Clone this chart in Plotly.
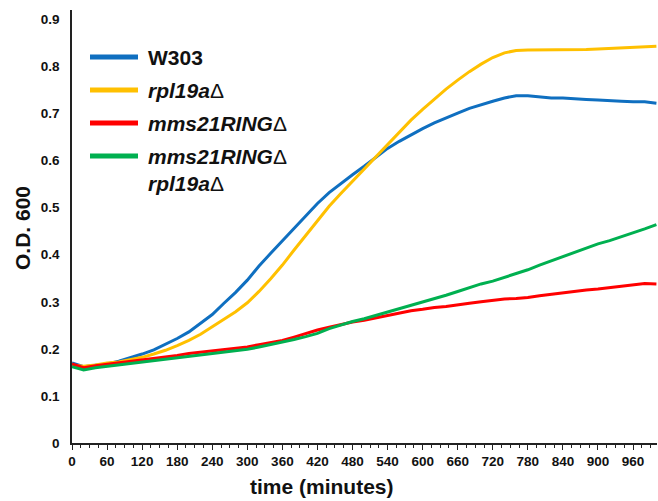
import plotly.graph_objects as go

# ---- data ----
time_min = list(range(0, 1001, 20))

w303 = [0.170, 0.162, 0.165, 0.168, 0.174, 0.181, 0.189, 0.198, 0.210, 0.222,
        0.236, 0.254, 0.273, 0.297, 0.320, 0.346, 0.376, 0.403, 0.430, 0.457,
        0.484, 0.509, 0.532, 0.552, 0.570, 0.588, 0.607, 0.626, 0.641, 0.655,
        0.668, 0.680, 0.691, 0.701, 0.711, 0.719, 0.726, 0.733, 0.738, 0.738,
        0.736, 0.733, 0.733, 0.731, 0.730, 0.729, 0.727, 0.726, 0.725, 0.725,
        0.722]

rpl19a = [0.165, 0.163, 0.166, 0.170, 0.172, 0.177, 0.182, 0.189, 0.197, 0.207,
          0.218, 0.231, 0.247, 0.262, 0.279, 0.298, 0.322, 0.349, 0.378, 0.410,
          0.441, 0.472, 0.503, 0.530, 0.556, 0.582, 0.609, 0.636, 0.662, 0.686,
          0.709, 0.731, 0.752, 0.771, 0.789, 0.805, 0.819, 0.829, 0.834, 0.835,
          0.835, 0.835, 0.835, 0.835, 0.836, 0.837, 0.838, 0.839, 0.840, 0.842,
          0.843]

mms21 = [0.168, 0.160, 0.164, 0.167, 0.170, 0.173, 0.177, 0.180, 0.183, 0.186,
         0.190, 0.193, 0.196, 0.199, 0.202, 0.204, 0.209, 0.213, 0.218, 0.225,
         0.233, 0.240, 0.246, 0.252, 0.257, 0.261, 0.266, 0.271, 0.276, 0.281,
         0.284, 0.288, 0.290, 0.294, 0.297, 0.300, 0.303, 0.306, 0.307, 0.309,
         0.313, 0.316, 0.320, 0.323, 0.325, 0.327, 0.330, 0.333, 0.336, 0.339,
         0.338]

double = [0.162, 0.155, 0.160, 0.163, 0.166, 0.168, 0.171, 0.174, 0.177, 0.180,
          0.183, 0.186, 0.190, 0.193, 0.196, 0.199, 0.204, 0.209, 0.214, 0.220,
          0.226, 0.233, 0.243, 0.251, 0.258, 0.264, 0.271, 0.278, 0.285, 0.292,
          0.299, 0.306, 0.314, 0.322, 0.330, 0.338, 0.344, 0.352, 0.360, 0.368,
          0.378, 0.387, 0.396, 0.405, 0.414, 0.423, 0.430, 0.438, 0.446, 0.455,
          0.464]

series_names = ["W303", "rpl19aΔ", "mms21RINGΔ", "mms21RINGΔ rpl19aΔ"]
legend_labels = ["<b>W303</b>",
                 "<b><i>rpl19a</i></b>Δ",
                 "<b><i>mms21RING</i></b>Δ",
                 "<b><i>mms21RING</i></b>Δ<br><b><i>rpl19a</i></b>Δ"]
series_values = [w303, rpl19a, mms21, double]
colors = ["#0F6FC0", "#FFC000", "#FF0000", "#00B050"]

x_ticks = list(range(0, 961, 60))
y_ticks = [0, 0.1, 0.2, 0.3, 0.4, 0.5, 0.6, 0.7, 0.8, 0.9]

FONT = "Liberation Sans, Arial, sans-serif"

fig = go.Figure()
for name, vals, col in zip(series_names, series_values, colors):
    fig.add_trace(go.Scatter(x=time_min, y=vals, mode="lines", name=name,
                             line=dict(color=col, width=3), showlegend=False))

# custom legend (line samples + labels) in the upper-left corner
W, H = 658, 501
ml, mr, mt, mb = 72, 1, 10, 58
pw, ph = W - ml - mr, H - mt - mb
def px(x):
    return (x - ml) / pw
def py(y):
    return (H - mb - y) / ph

legend_y = [57, 90, 123, 156]
shapes = []
annotations = []
for lab, col, yy in zip(legend_labels, colors, legend_y):
    shapes.append(dict(type="line", xref="paper", yref="paper",
                       x0=px(90), x1=px(138), y0=py(yy), y1=py(yy),
                       line=dict(color=col, width=5)))
    annotations.append(dict(xref="paper", yref="paper", x=px(146), y=py(yy - 13),
                            xanchor="left", yanchor="top", align="left",
                            text=lab, showarrow=False,
                            font=dict(family=FONT, size=21, color="#111")))

# axis titles
annotations.append(dict(xref="paper", yref="paper", x=px(322), y=py(487),
                        xanchor="center", yanchor="middle", showarrow=False,
                        text="<b>time (minutes)</b>",
                        font=dict(family=FONT, size=21, color="#111")))
annotations.append(dict(xref="paper", yref="paper", x=px(22), y=py(228),
                        xanchor="center", yanchor="middle", showarrow=False,
                        textangle=-90, text="<b>O.D. 600</b>",
                        font=dict(family=FONT, size=21, color="#111")))

fig.update_layout(
    width=W, height=H,
    margin=dict(l=ml, r=mr, t=mt, b=mb),
    paper_bgcolor="white", plot_bgcolor="white",
    shapes=shapes, annotations=annotations,
    xaxis=dict(range=[0, 1001], tickvals=x_ticks, showgrid=False, zeroline=False,
               showline=True, linecolor="#222", linewidth=1.5,
               ticks="outside", ticklen=5, tickwidth=1.2, tickcolor="#222",
               minor=dict(dtick=15, ticks="outside", ticklen=3, tickwidth=1, tickcolor="#222"),
               tickfont=dict(family=FONT, size=13.5, color="#111", weight="bold")),
    yaxis=dict(range=[0, 0.92], tickvals=y_ticks, ticktext=["0"] + [f"{v:.1f}" for v in y_ticks[1:]],
               showgrid=False, zeroline=False,
               showline=True, linecolor="#222", linewidth=1.5, ticks="",
               ticklabelstandoff=8,
               tickfont=dict(family=FONT, size=13.5, color="#111", weight="bold")),
)

fig.write_html("out.html")
